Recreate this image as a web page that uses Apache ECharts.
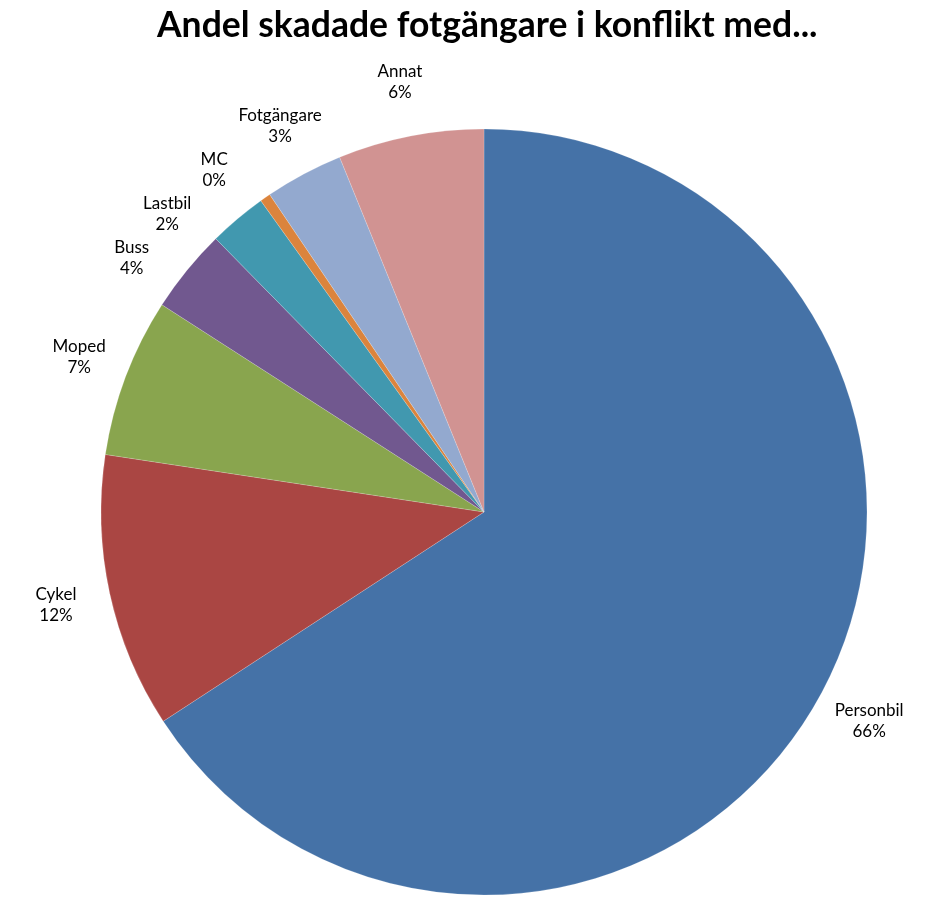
<!DOCTYPE html>
<html lang="sv">
<head>
    <meta charset="UTF-8">
    <title>Andel skadade fotgängare</title>
    <style>
        html, body { margin: 0; padding: 0; background: #fff; }
        #main { width: 942px; height: 912px; }
    </style>
</head>
<body>
    <div id="main"></div>
</body>
<script src="https://cdn.jsdelivr.net/npm/echarts@6/dist/echarts.min.js"></script>
<script>
    // andel (%) per motpart, uppskattat ur bilden
    var categories = ['Personbil', 'Cykel', 'Moped', 'Buss', 'Lastbil', 'MC', 'Fotgängare', 'Annat'];
    var shares = [65.8, 11.6, 6.7, 3.55, 2.45, 0.45, 3.3, 6.15];
    var colors = ['#4572A7', '#AA4643', '#89A54E', '#71588F', '#4198AF', '#DB843D', '#93A9CF', '#D19392'];

    var pieData = [];
    for (var i = 0; i < categories.length; i++) {
        pieData.push({ name: categories[i], value: shares[i] });
    }

    var myChart = echarts.init(document.getElementById('main'));
    var option = {
        animation: false,
        color: colors,
        title: {
            text: 'Andel skadade fotgängare i konflikt med...',
            left: 152,
            top: 3,
            textStyle: {
                fontFamily: 'Lato',
                fontWeight: 'bold',
                fontSize: 35.5,
                color: '#000'
            }
        },
        series: [{
            type: 'pie',
            center: [484, 512],
            radius: 383,
            startAngle: 90,
            clockwise: true,
            avoidLabelOverlap: true,
            itemStyle: {
                borderColor: 'rgba(255,255,255,0.35)',
                borderWidth: 0.5
            },
            label: {
                show: true,
                position: 'outside',
                width: 120,
                overflow: 'none',
                fontFamily: 'Lato',
                fontSize: 17,
                lineHeight: 21,
                color: '#000',
                formatter: function (p) {
                    return p.name + '\n' + Math.round(p.percent) + '%';
                }
            },
            labelLine: {
                show: true,
                length: 55,
                length2: 0,
                lineStyle: { width: 0, opacity: 0 }
            },
            labelLayout: function (params) {
                var pts = params.labelLinePoints;
                if (!pts) return {};
                var end = pts[pts.length - 1];
                return {
                    x: end[0],
                    y: end[1],
                    align: 'center',
                    verticalAlign: 'middle',
                    hideOverlap: false
                };
            },
            data: pieData
        }]
    };
    myChart.setOption(option);
</script>
</html>
